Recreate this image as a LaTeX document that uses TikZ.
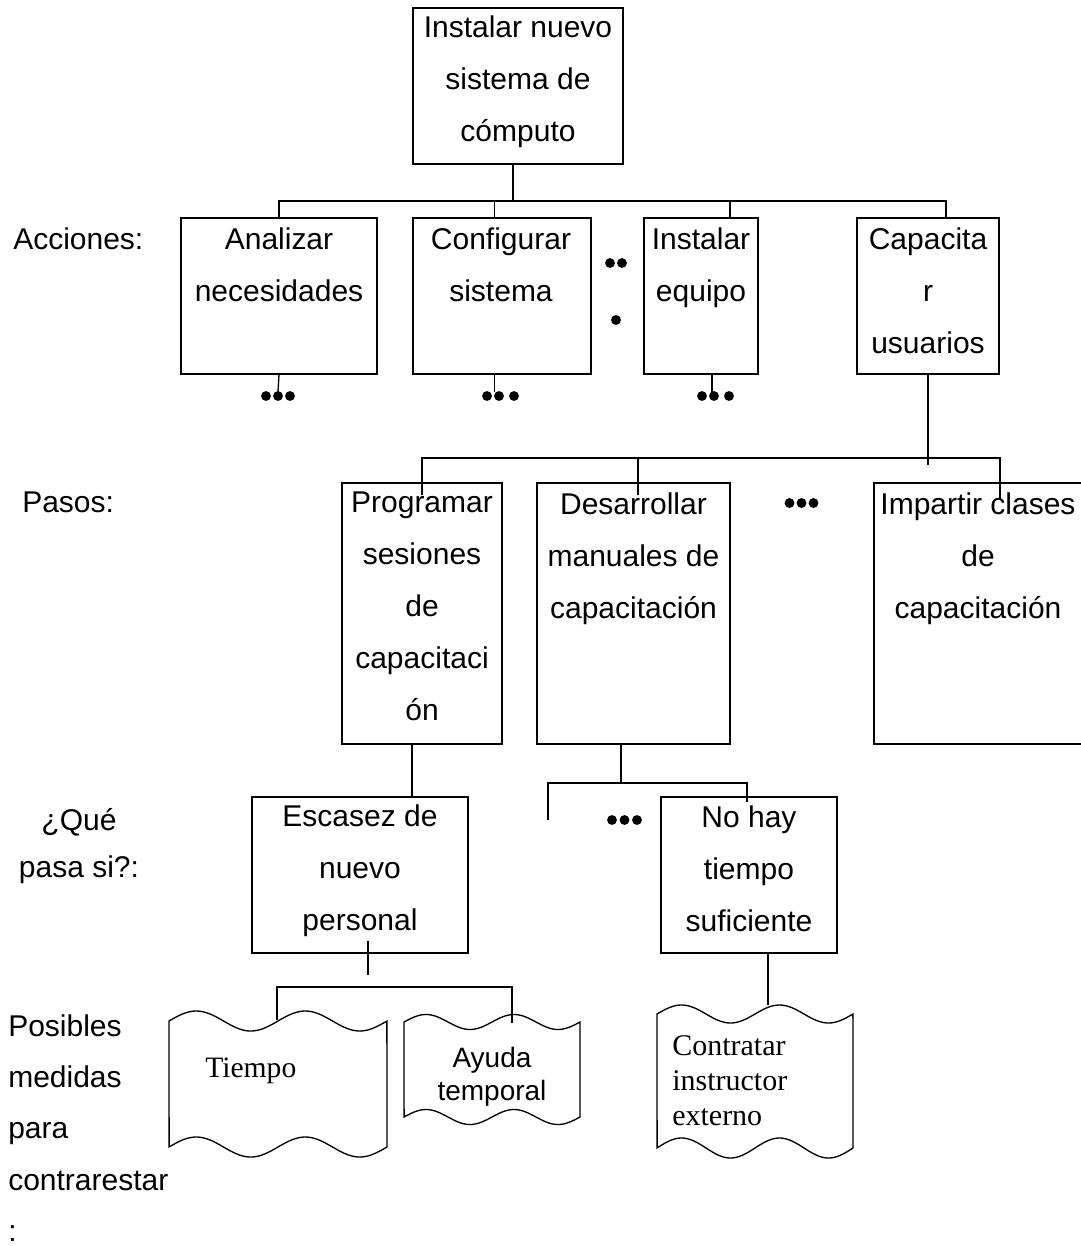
\documentclass[tikz,border=0pt]{standalone}
\usepackage{fontspec}
\setmainfont{Liberation Sans}
\newfontfamily\tapeserif{Liberation Serif}

% rectangle node from its corner coordinates: name, x1, y1, x2, y2
\newcommand\mkbox[5]{%
  \node[box, minimum width={(#4-#2)*0.75pt}, minimum height={(#5-#3)*0.75pt}]
    (#1) at ({(#2+#4)/2},{(#3+#5)/2}) {};}
% punched-tape outline: left, right, top middle, bottom middle, top amplitude, bottom amplitude
\newcommand\tapeshape[6]{%
  \draw[tape] plot[domain=0:1, samples=90, variable=\t] ({#1+(#2-#1)*\t},{#3-#5*sin(720*\t)})
    -- plot[domain=1:0, samples=90, variable=\t] ({#1+(#2-#1)*\t},{#4-#6*sin(720*\t)}) -- cycle;}
% three bullet marks
\newcommand\threedots[4]{%
  \fill (#1,#4) circle[radius=3.7pt] (#2,#4) circle[radius=3.7pt] (#3,#4) circle[radius=3.7pt];}

\begin{document}
\begin{tikzpicture}[x=0.75pt, y=-0.75pt,
  box/.style={draw, line width=1.3pt, inner sep=0pt, outer sep=0pt},
  wire/.style={line width=1pt},
  tape/.style={line width=1pt},
  boxtext/.style={inner sep=0pt, anchor=north, align=center,
                  font=\fontsize{22.5}{39}\selectfont},
  sidetext/.style={inner sep=0pt, anchor=north west, align=left,
                   font=\fontsize{22.5}{39}\selectfont}
]
\fill[white] (0,0) rectangle (1081,1246);
\useasboundingbox (0,0) rectangle (1081,1246);

% ---------- boxes ----------
\mkbox{top}{413}{8}{623}{164}
\mkbox{ana}{181}{218}{377}{374}
\mkbox{cfg}{413}{218}{591}{374}
\mkbox{ins}{644}{218}{758}{374}
\mkbox{cap}{857}{218}{999}{374}
\mkbox{prog}{342}{483}{502}{744}
\mkbox{des}{537}{483}{730}{744}
\mkbox{imp}{874}{483}{1085}{744}
\mkbox{esc}{252}{797}{468}{953}
\mkbox{nohay}{661}{797}{837}{953}

% ---------- box texts ----------
\node[boxtext] (ttop) at (518,15.5) {Instalar nuevo\\sistema de\\cómputo};
\node[boxtext] (tana) at (279,227.5) {Analizar\\necesidades};
\node[boxtext] (tcfg) at (501,227.5) {Configurar\\sistema};
\node[boxtext] (tins) at (701,227.5) {Instalar\\equipo};
\node[boxtext] (tcap) at (928,227.5) {Capacita\\r\\usuarios};
\node[boxtext] (tprog) at (422,492) {Programar\\sesiones\\de\\capacitaci\\ón};
\node[boxtext] (tdes) at (633.5,492) {Desarrollar\\manuales de\\capacitación};
\node[boxtext] (timp) at (978,492) {Impartir clases\\de\\capacitación};
\node[boxtext] (tesc) at (360,804.5) {Escasez de\\nuevo\\personal};
\node[boxtext] (tnohay) at (749,805.5) {No hay\\tiempo\\suficiente};

% ---------- row labels ----------
\node[sidetext] (lacc) at (13,227.5) {Acciones:};
\node[sidetext] (lpas) at (22,492) {Pasos:};
\node[inner sep=0pt, anchor=north, align=center,
      font=\fontsize{22.5}{35.5}\selectfont] (lque) at (79,808) {¿Qué\\pasa si?:};
\node[sidetext, font=\fontsize{22.5}{38.5}\selectfont] (lpos) at (8,1014) {Posibles\\medidas\\para\\contrarestar\\:};

% ---------- tapes ----------
\tapeshape{169}{387}{1021}{1147}{10}{10}
\tapeshape{404}{580}{1022}{1117}{7.5}{7.5}
\tapeshape{657}{853}{1014}{1148}{9}{10}
\node[inner sep=0pt, anchor=base west, font=\tapeserif\fontsize{22.2}{28}\selectfont]
  (ttiempo) at (205,1077) {Tiempo};
\node[inner sep=0pt, anchor=north, align=center, font=\fontsize{21}{24.75}\selectfont]
  (tayuda) at (492,1046.5) {Ayuda\\temporal};
\node[inner sep=0pt, anchor=north west, align=left, font=\tapeserif\fontsize{22.5}{26.25}\selectfont]
  (tcontr) at (672,1035) {Contratar\\instructor\\externo};

% ---------- connection points ----------
\coordinate (topOut) at (513,164);
\coordinate (j0) at (513,201);
\coordinate (cfgIn) at (494.6,218);
\coordinate (insIn) at (730,218);
\coordinate (capIn) at (946,218);
\coordinate (anaOut) at (278,392);
\coordinate (cfgOut) at (494.6,392);
\coordinate (insOut) at (712,392);
\coordinate (capOut) at (928,374);
\coordinate (capEnd) at (928,465);
\coordinate (progIn) at (422,495);
\coordinate (desIn) at (638,495);
\coordinate (desBus) at (638,458);
\coordinate (impIn) at (1000,500);
\coordinate (progOut) at (412,744);
\coordinate (desOut) at (621,744);
\coordinate (desJ) at (621,783);
\coordinate (looseEnd) at (548,820);
\coordinate (nohayIn) at (747,802);
\coordinate (escOut) at (368,941);
\coordinate (escEnd) at (368,975);
\coordinate (tiempoIn) at (277,1020);
\coordinate (ayudaIn) at (512,1023);
\coordinate (nohayOut) at (768,953);
\coordinate (contrIn) at (768,1005);

% ---------- connectors ----------
\draw[wire] (topOut) -- (j0);
\draw[wire] (ana.north) |- (j0) -| (capIn);
\draw[wire] (cfgIn) -- (cfgIn |- j0);
\draw[wire] (insIn) -- (insIn |- j0);

\draw[wire] (ana.south) -- (anaOut);
\draw[wire] (cfgOut |- cfg.south) -- (cfgOut);
\draw[wire] (insOut |- ins.south) -- (insOut);

\draw[wire] (capOut) -- (capEnd);
\draw[wire] (progIn) |- (desBus) -| (impIn);
\draw[wire] (desIn) -- (desBus);

\draw[wire] (progOut) -- (progOut |- esc.north);
\draw[wire] (desOut) -- (desJ);
\draw[wire] (looseEnd) |- (desJ) -| (nohayIn);

\draw[wire] (escOut) -- (escEnd);
\draw[wire] (tiempoIn) -- ++(0,-33) -| (ayudaIn);
\draw[wire] (nohayOut) -- (contrIn);

% ---------- continuation marks ----------
\threedots{266}{278}{290}{396}
\threedots{487}{499}{514}{396}
\threedots{702}{714}{729}{396}
\fill (610,263) circle[radius=3.7pt] (622,263) circle[radius=3.7pt] (616,320) circle[radius=3.7pt];
\threedots{789.5}{801.5}{813.5}{503}
\threedots{612}{624.5}{637}{820}
\end{tikzpicture}
\end{document}
